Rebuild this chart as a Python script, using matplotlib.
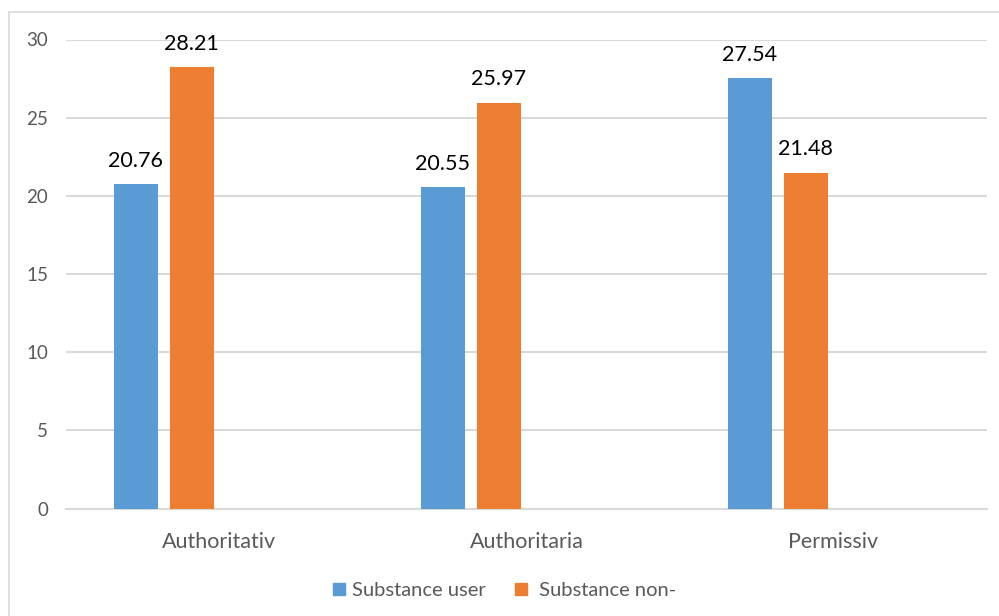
import matplotlib
matplotlib.use("Agg")
import matplotlib.pyplot as plt
from matplotlib.patches import Rectangle
from matplotlib.lines import Line2D
import numpy as np

plt.rcParams['font.family'] = ['Lato', 'DejaVu Sans']

categories = ["Authoritativ", "Authoritaria", "Permissiv"]
user_values = [20.76, 20.55, 27.54]
non_user_values = [28.21, 25.97, 21.48]
series_names = ["Substance user", " Substance non-"]
yticks = [0, 5, 10, 15, 20, 25, 30]

blue = "#5B9BD5"
orange = "#ED7D31"
grid_col = "#D9D9D9"
text_grey = "#595959"

fig = plt.figure(figsize=(9.99, 6.16), dpi=100)
ax = fig.add_axes([66 / 999, 1 - 508.5 / 616, (987 - 66) / 999, (508.5 - 39.5) / 616])

x = np.arange(len(categories))
width = 0.143
slot = 0.182
offsets = [-1.5 * slot, -0.5 * slot]

for vals, off, col in zip([user_values, non_user_values], offsets, [blue, orange]):
    bars = ax.bar(x + off, vals, width=width, color=col, zorder=3)
    for b, v in zip(bars, vals):
        ax.text(b.get_x() + b.get_width() / 2, v + 0.85, f"{v:.2f}",
                ha="center", va="bottom", fontsize=15.5, color="#000000")

ax.set_xlim(-0.5, 2.5)
ax.set_ylim(0, 30)
ax.set_yticks(yticks)
ax.set_xticks(x)
ax.set_xticklabels(categories)
ax.tick_params(axis="y", length=0, labelsize=13.5, labelcolor=text_grey, pad=13)
ax.tick_params(axis="x", length=0, labelsize=15.5, labelcolor=text_grey, pad=17)
ax.grid(axis="y", color=grid_col, linewidth=1.5, zorder=0)
for s in ["top", "right", "left"]:
    ax.spines[s].set_visible(False)
ax.spines["bottom"].set_color(grid_col)
ax.spines["bottom"].set_linewidth(1.5)

# outer chart frame (right and bottom edges run past the canvas)
fig.patches.append(Rectangle((9 / 999, -0.05), 1.0, 1 - 12 / 616 + 0.05,
                             transform=fig.transFigure, fill=False,
                             edgecolor=grid_col, linewidth=1.2))

handles = [Line2D([], [], marker="s", linestyle="none", markersize=9,
                  markerfacecolor=c, markeredgecolor=c) for c in (blue, orange)]
leg = fig.legend(handles, series_names, loc="center", bbox_to_anchor=(504 / 999, 1 - 590 / 616),
                 ncol=2, frameon=False, fontsize=14.5, handlelength=0.7,
                 handletextpad=0.3, columnspacing=1.4, labelcolor=text_grey)

fig.savefig("out.png", dpi=100, facecolor="white")
